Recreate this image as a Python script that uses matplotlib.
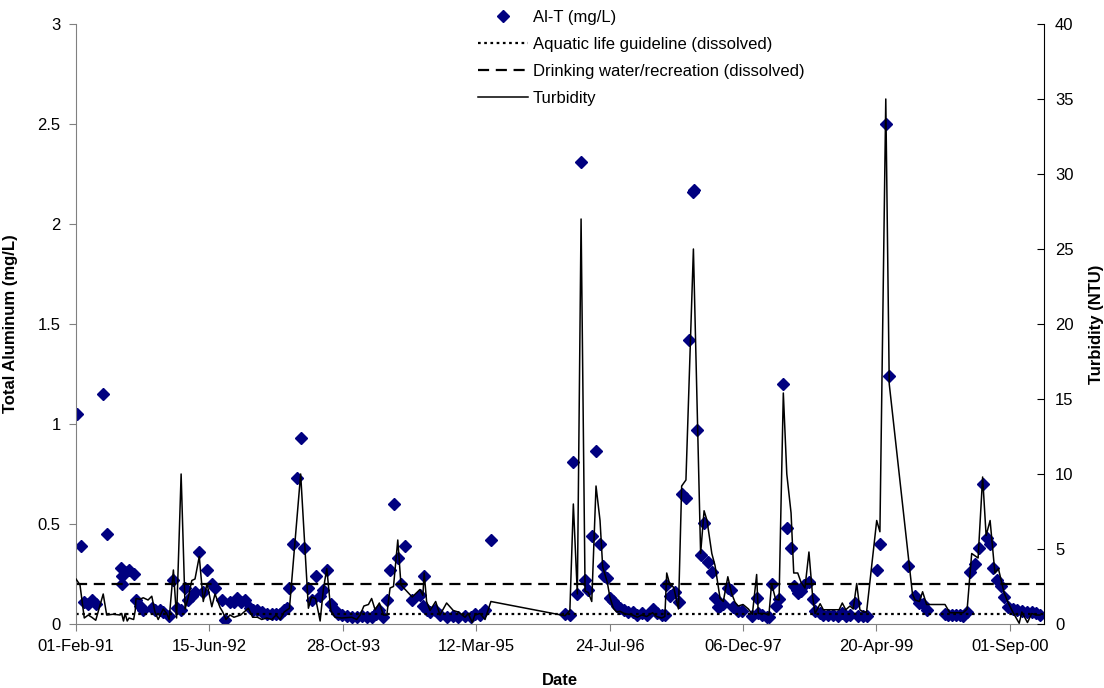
import matplotlib
matplotlib.use('Agg')

import datetime as dt
import numpy as np
import matplotlib.pyplot as plt
import matplotlib.dates as mdates
from matplotlib.ticker import FixedLocator, FuncFormatter

plt.rcParams['font.family'] = ['Liberation Sans', 'DejaVu Sans']

# Sampling days counted from the first sample (01-Feb-1991)
START = dt.date(1991, 2, 1)

al_day = [3, 18, 31, 46, 59, 74, 102, 115, 169, 171, 173, 184, 199, 216, 225, 240, 252,
          284, 296, 315, 327, 349, 365, 377, 394, 409, 421, 434, 446, 462, 477, 491, 509,
          521, 546, 560, 577, 592, 605, 617, 633, 652, 665, 680, 696, 715, 734, 750, 765,
          780, 790, 800, 812, 827, 842, 856, 871, 883, 898, 915, 927, 940, 955, 971, 983,
          996, 1015, 1034, 1052, 1071, 1090, 1108, 1124, 1137, 1152, 1165, 1177, 1190, 1206,
          1218, 1233, 1260, 1289, 1300, 1305, 1314, 1327, 1345, 1364, 1389, 1414, 1433, 1458,
          1480, 1495, 1514, 1533, 1555, 1833, 1851, 1864, 1879, 1893, 1908, 1920, 1933, 1949,
          1964, 1974, 1978, 1991, 2001, 2014, 2026, 2039, 2054, 2070, 2086, 2104, 2120, 2139,
          2161, 2176, 2195, 2207, 2211, 2226, 2245, 2261, 2270, 2286, 2299, 2312, 2315, 2327,
          2341, 2354, 2370, 2383, 2395, 2407, 2414, 2426, 2443, 2455, 2464, 2482, 2495, 2535,
          2551, 2557, 2572, 2589, 2597, 2607, 2622, 2635, 2651, 2664, 2680, 2692, 2701, 2707,
          2717, 2730, 2747, 2761, 2770, 2789, 2801, 2820, 2838, 2855, 2870, 2885, 2901, 2920,
          2932, 2951, 2963, 3001, 3013, 3035, 3048, 3117, 3145, 3161, 3173, 3188, 3257, 3269,
          3282, 3298, 3313, 3325, 3340, 3351, 3369, 3384, 3398, 3413, 3426, 3438, 3453, 3466,
          3479, 3494, 3511, 3528, 3545, 3563, 3582, 3598, 3613]
al_val = [1.05, 0.39, 0.11, 0.10, 0.12, 0.10, 1.15, 0.45, 0.28, 0.24, 0.20, 0.26, 0.27, 0.25,
          0.12, 0.09, 0.07, 0.08, 0.07, 0.07, 0.06, 0.04, 0.22, 0.08, 0.07, 0.18, 0.12, 0.14,
          0.16, 0.36, 0.16, 0.27, 0.20, 0.18, 0.12, 0.02, 0.11, 0.11, 0.13, 0.11, 0.12, 0.08,
          0.07, 0.07, 0.06, 0.05, 0.05, 0.05, 0.05, 0.07, 0.08, 0.18, 0.40, 0.73, 0.93, 0.38,
          0.18, 0.12, 0.24, 0.14, 0.17, 0.27, 0.10, 0.07, 0.05, 0.045, 0.04, 0.035, 0.035,
          0.04, 0.035, 0.035, 0.05, 0.07, 0.035, 0.12, 0.27, 0.60, 0.33, 0.20, 0.39, 0.12,
          0.145, 0.09, 0.24, 0.07, 0.06, 0.07, 0.045, 0.035, 0.04, 0.035, 0.04, 0.035, 0.05,
          0.045, 0.07, 0.42, 0.05, 0.045, 0.81, 0.15, 2.31, 0.22, 0.17, 0.44, 0.865, 0.40,
          0.29, 0.24, 0.23, 0.13, 0.115, 0.09, 0.08, 0.07, 0.06, 0.06, 0.045, 0.055, 0.045,
          0.075, 0.055, 0.045, 0.045, 0.195, 0.14, 0.16, 0.11, 0.65, 0.63, 1.42, 2.16, 2.17,
          0.97, 0.345, 0.505, 0.31, 0.26, 0.13, 0.085, 0.09, 0.10, 0.18, 0.17, 0.085, 0.065,
          0.065, 0.04, 0.13, 0.055, 0.045, 0.035, 0.035, 0.20, 0.09, 0.125, 1.20, 0.48, 0.38,
          0.19, 0.17, 0.155, 0.165, 0.195, 0.21, 0.125, 0.065, 0.055, 0.045, 0.045, 0.045,
          0.04, 0.055, 0.04, 0.045, 0.105, 0.04, 0.04, 0.04, 0.27, 0.40, 2.50, 1.24, 0.29,
          0.14, 0.105, 0.10, 0.07, 0.05, 0.045, 0.045, 0.045, 0.045, 0.04, 0.06, 0.26, 0.30,
          0.38, 0.70, 0.43, 0.40, 0.28, 0.22, 0.19, 0.135, 0.085, 0.075, 0.07, 0.065, 0.06,
          0.06, 0.055, 0.045]

turb_day = [0, 15, 31, 46, 59, 74, 102, 115, 140, 165, 171, 178, 184, 192, 199, 216, 222,
            225, 240, 252, 270, 284, 296, 308, 327, 340, 349, 365, 377, 394, 409, 421, 434,
            446, 462, 477, 491, 509, 521, 540, 550, 562, 577, 592, 617, 646, 662, 680, 696,
            715, 734, 750, 765, 780, 800, 842, 871, 883, 898, 915, 927, 940, 955, 971, 996,
            1034, 1052, 1065, 1079, 1096, 1108, 1121, 1137, 1152, 1165, 1177, 1190, 1206,
            1218, 1260, 1289, 1300, 1305, 1314, 1327, 1348, 1364, 1389, 1414, 1433, 1458,
            1470, 1485, 1495, 1514, 1533, 1555, 1833, 1851, 1864, 1879, 1893, 1908, 1920,
            1933, 1949, 1964, 1974, 1991, 2001, 2014, 2026, 2039, 2054, 2070, 2086, 2104,
            2120, 2139, 2161, 2176, 2195, 2207, 2214, 2226, 2240, 2258, 2270, 2286, 2314,
            2341, 2354, 2365, 2383, 2395, 2414, 2426, 2443, 2457, 2470, 2482, 2500, 2520,
            2535, 2551, 2557, 2580, 2597, 2607, 2622, 2635, 2651, 2664, 2680, 2690, 2705,
            2717, 2732, 2747, 2761, 2770, 2789, 2801, 2820, 2838, 2860, 2872, 2885, 2901,
            2913, 2926, 2938, 2951, 2963, 3001, 3013, 3035, 3048, 3135, 3145, 3161, 3173,
            3188, 3257, 3275, 3325, 3340, 3357, 3381, 3398, 3411, 3426, 3444, 3457, 3479,
            3494, 3511, 3535, 3545, 3566, 3582, 3598, 3613]
turb_val = [3.0, 2.6, 0.4, 0.6, 0.45, 0.25, 2.0, 0.6, 0.65, 0.6, 0.7, 0.2, 0.7, 0.2, 0.4,
            0.3, 0.9, 1.7, 1.65, 1.75, 1.6, 1.85, 0.8, 0.3, 1.0, 0.7, 0.3, 3.6, 0.4, 10.0,
            1.0, 1.8, 2.9, 3.0, 4.5, 1.5, 2.7, 1.15, 2.0, 1.1, 0.8, 0.3, 0.6, 0.45, 0.6,
            1.05, 0.45, 0.45, 0.3, 0.4, 0.3, 0.6, 0.3, 0.8, 1.05, 10.0, 1.05, 1.8, 1.7, 0.2,
            2.3, 3.7, 0.9, 0.45, 0.4, 0.45, 0.3, 0.6, 1.2, 1.3, 1.7, 0.95, 1.4, 0.6, 0.6,
            2.4, 2.5, 5.6, 2.6, 1.8, 2.3, 1.9, 3.4, 1.5, 0.9, 1.5, 0.6, 1.4, 0.9, 0.8, 0.45,
            0.7, 0.1, 0.6, 0.7, 0.3, 1.5, 0.55, 0.9, 8.0, 2.0, 27.0, 2.2, 2.1, 1.5, 9.2, 6.9,
            3.8, 2.8, 1.8, 1.05, 0.8, 0.85, 0.7, 0.65, 0.6, 0.45, 0.6, 0.5, 0.75, 0.5, 0.4,
            0.5, 3.4, 2.6, 2.45, 1.0, 9.2, 9.6, 25.0, 4.7, 7.55, 6.9, 4.7, 3.9, 1.7, 1.5,
            3.15, 2.05, 1.45, 1.2, 1.3, 1.0, 0.65, 3.3, 0.7, 0.7, 0.6, 2.7, 1.65, 1.6, 15.4,
            10.0, 7.4, 3.4, 3.4, 2.8, 2.4, 4.8, 1.8, 0.7, 1.35, 0.95, 0.95, 0.95, 0.95, 1.4,
            0.95, 1.2, 1.0, 2.7, 0.95, 0.8, 0.8, 6.9, 6.15, 35.0, 16.0, 2.0, 1.6, 1.5, 2.15,
            1.3, 1.3, 0.75, 0.75, 1.0, 4.7, 4.4, 9.8, 5.9, 6.9, 3.4, 3.7, 2.05, 1.4, 0.8,
            0.05, 0.8, 0.1, 0.7, 0.6, 0.6]

AQUATIC_LIFE = 0.05      # mg/L dissolved
DRINKING_WATER = 0.2     # mg/L dissolved

base = mdates.date2num(START)
al_x = base + np.array(al_day)
turb_x = base + np.array(turb_day)

fig = plt.figure(figsize=(11.04, 6.88), dpi=100)
ax = fig.add_axes([76 / 1104, 64 / 688, 968 / 1104, 600 / 688])
ax2 = ax.twinx()

al_pts, = ax.plot(al_x, al_val, linestyle='none', marker='D', markersize=6,
                  color='#000080', label='Al-T (mg/L)')
aq = ax.axhline(AQUATIC_LIFE, color='black', linestyle=(0, (1.2, 1.6)), linewidth=1.6,
                label='Aquatic life guideline (dissolved)')
dw = ax.axhline(DRINKING_WATER, color='black', linestyle=(0, (5, 3)), linewidth=1.6,
                label='Drinking water/recreation (dissolved)')
tb, = ax2.plot(turb_x, turb_val, color='black', linewidth=1.1, label='Turbidity')

# x axis: date ticks every 500 days
ax.set_xlim(base, base + 3628)
ax.xaxis.set_major_locator(FixedLocator([base + 500 * k for k in range(8)]))
ax.xaxis.set_major_formatter(mdates.DateFormatter('%d-%b-%y'))

ax.set_ylim(0, 3)
ax.set_yticks(np.arange(0, 3.01, 0.5))
ax.yaxis.set_major_formatter(FuncFormatter(lambda v, p: f'{v:g}'))
ax2.set_ylim(0, 40)
ax2.set_yticks(range(0, 41, 5))

for a in (ax, ax2):
    a.spines['top'].set_visible(False)
ax.spines['left'].set_color('#808080')
ax.spines['bottom'].set_color('#808080')
ax.spines['right'].set_visible(False)
ax2.spines['left'].set_visible(False)
ax2.spines['bottom'].set_visible(False)
ax2.spines['right'].set_color('black')

ax.tick_params(axis='both', labelsize=12, length=5, color='#808080', pad=6)
ax2.tick_params(axis='y', labelsize=12, length=5, direction='in', pad=8)

ax.set_xlabel('Date', fontsize=12, fontweight='bold')
ax.xaxis.set_label_coords(0.5, -0.082)
ax.set_ylabel('Total Aluminum (mg/L)', fontsize=12, fontweight='bold')
ax.yaxis.set_label_coords(-0.06, 0.5)
ax2.set_ylabel('Turbidity (NTU)', fontsize=12, fontweight='bold')
ax2.yaxis.set_label_coords(1.046, 0.5)

fig.legend(handles=[al_pts, aq, dw, tb], loc='upper left',
           bbox_to_anchor=(478 / 1104, 1 - 10 / 688), frameon=False, fontsize=12,
           handlelength=3.0, handletextpad=0.3, labelspacing=0.72,
           borderpad=0, borderaxespad=0)

fig.savefig('out.png', dpi=100)
plt.close(fig)
